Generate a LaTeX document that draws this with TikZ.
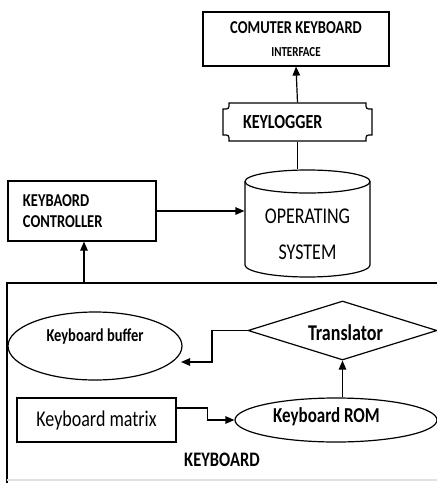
\documentclass[tikz,border=0pt]{standalone}
\usepackage{fontspec}
\usepackage{graphicx}
\setmainfont{Carlito}
\usetikzlibrary{arrows.meta,shapes.geometric,calc}
\newcommand\vsc[1]{\scalebox{1}[1.25]{#1}}
\begin{document}
\begin{tikzpicture}[x=1pt,y=-1pt,
  line width=1.2pt,
  arr/.style={-{Triangle[length=9pt,width=7.5pt]}},
  boxnode/.style={draw,rectangle,inner sep=0pt},
  fs/.style={font=\fontsize{#1}{#1}\selectfont}]
\useasboundingbox (0,0) rectangle (437,483);

% top interface box
\node[boxnode,minimum width=186,minimum height=54,align=center] (ci) at (296,39)
  {\raisebox{-3pt}{\fontsize{14.5}{18}\selectfont\bfseries\vsc{COMUTER KEYBOARD}}\\[13pt]{\fontsize{11}{13}\selectfont\bfseries\vsc{INTERFACE}}};

% keylogger plaque
\node[rectangle,inner sep=0pt,minimum width=149,minimum height=38,text width=109,inner xsep=20pt,align=left,fs=16] (kl) at (297.5,122) {\raisebox{-5pt}{\bfseries\vsc{KEYLOGGER}}};
\draw (229,103) -- (366,103) .. controls (366,109) .. (372,109) -- (372,135)
  .. controls (366,135) .. (366,141) -- (229,141) .. controls (229,135) .. (223,135)
  -- (223,109) .. controls (229,109) .. (229,103) -- cycle;

% operating system cylinder
\node[ellipse,draw,inner sep=0pt,minimum width=125,minimum height=23] (ostop) at (307.5,181.5) {};
\draw (245,181.5) -- (245,265) .. controls (245,271.6) and (273,277) .. (307.5,277)
  .. controls (342,277) and (370,271.6) .. (370,265) -- (370,181.5);
\node[rectangle,inner sep=0pt,align=center,font=\fontsize{18}{36}\selectfont] (os) at (307.5,234) {\vsc{OPERATING}\\\vsc{SYSTEM}};

% keyboard controller
\node[boxnode,minimum width=148,minimum height=60,text width=118,inner xsep=15pt,align=left,font=\fontsize{14.5}{21}\selectfont\bfseries] (kc) at (82,211) {\vsc{KEYBAORD}\\\vsc{CONTROLLER}};

% outer keyboard frame
\draw (7,483) -- (7,283) -- (437,283);
\draw[black!12] (7,480) -- (437,480);
\coordinate (kbtop) at (84,283);

% keyboard buffer
\node[ellipse,draw,inner sep=0pt,minimum width=174,minimum height=68] (buf) at (95,346) {};
\node[fs=14.5,inner sep=0pt] (buft) at (95,337) {\bfseries\vsc{Keyboard buffer}};
\coordinate (bufin) at (181,362);

% translator
\node[diamond,draw,inner sep=0pt,minimum width=189,minimum height=59] (tr) at (342.5,330.5) {};
\node[fs=18,inner sep=0pt] (trt) at (345.5,333) {\bfseries\vsc{Translator}};

% keyboard matrix
\node[boxnode,minimum width=159,minimum height=44,fs=18] (km) at (96.5,420) {\vsc{Keyboard matrix}};

% keyboard ROM
\node[ellipse,draw,inner sep=0pt,minimum width=202,minimum height=44] (rom) at (336,420) {};
\node[fs=17,inner sep=0pt] (romt) at (326.5,417) {\bfseries\vsc{Keyboard ROM}};

\node[fs=16.5,inner sep=0pt] (kbl) at (222,460) {\bfseries\vsc{KEYBOARD}};

% connectors
\draw[arr] (kl.north) -- (ci.south);
\draw (kl.south) -- (kl.south |- ostop.north);
\draw[arr] (kc.east) -- (kc.east -| ostop.west);
\draw[arr] (kbtop) -- (kbtop |- kc.south);
\draw[arr] (tr.west) -- (212,330.5) |- (bufin);
\draw[arr] ([yshift=12pt]km.east) -- ++(31,0) |- (rom.west);
\draw[arr] (tr.south |- rom.north) -- (tr.south);
\end{tikzpicture}
\end{document}
